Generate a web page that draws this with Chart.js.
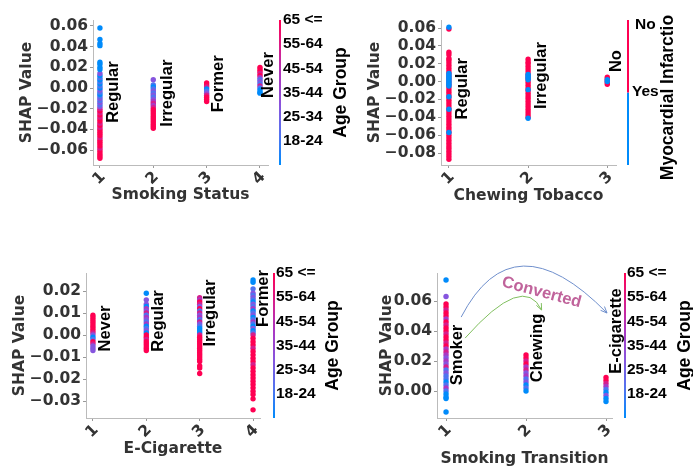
<!DOCTYPE html>
<html>
<head>
<meta charset="utf-8">
<script src="https://cdn.jsdelivr.net/npm/chart.js@4.4.1/dist/chart.umd.min.js"></script>
<style>
  html, body { margin: 0; padding: 0; background: #fff; }
  #wrap { position: relative; width: 693px; height: 468px; overflow: hidden; background: #fff; }
  #wrap canvas { position: absolute; }
</style>
</head>
<body>
<div id="wrap">
  <canvas id="g1" width="350" height="210" style="left:0px;top:0px"></canvas>
  <canvas id="g2" width="343" height="210" style="left:350px;top:0px"></canvas>
  <canvas id="g3" width="350" height="218" style="left:0px;top:250px"></canvas>
  <canvas id="g4" width="343" height="218" style="left:350px;top:250px"></canvas>
</div>
<script>
// colour groups: 0..5 = 18-24 .. 65 <=, for MI 0 = Yes, 1 = No
const ageGroups = ['18-24', '25-34', '35-44', '45-54', '55-64', '65 <='];
const ageColors = ['rgb(0,139,251)', 'rgb(80,116,240)', 'rgb(134,85,222)', 'rgb(170,56,195)', 'rgb(214,30,140)', 'rgb(255,0,82)'];
const miGroups = ['Yes', 'No'];
const miColors = ['rgb(0,139,251)', 'rgb(255,0,82)'];

const smokingLabels = ['Regular', 'Irregular', 'Former', 'Never'];
const chewingLabels = ['Regular', 'Irregular', 'No'];
const ecigLabels = ['Never', 'Regular', 'Irregular', 'Former'];
const transitionLabels = ['Smoker', 'Chewing', 'E-cigarette'];

const xTicks4 = [1, 2, 3, 4];
const xTicks3 = [1, 2, 3];
const smokingYTicks = [-0.06, -0.04, -0.02, 0, 0.02, 0.04, 0.06];
const chewingYTicks = [-0.08, -0.06, -0.04, -0.02, 0, 0.02, 0.04, 0.06];
const ecigYTicks = [-0.03, -0.02, -0.01, 0, 0.01, 0.02];
const transitionYTicks = [0, 0.02, 0.04, 0.06];

// [category, shap value, group]
const smokingPts = [
  [1,-0.068,5],[1,-0.066,5],[1,-0.064,5],[1,-0.062,5],[1,-0.060,5],[1,-0.058,4],[1,-0.056,5],[1,-0.054,5],
  [1,-0.052,5],[1,-0.050,5],[1,-0.048,4],[1,-0.046,5],[1,-0.044,5],[1,-0.042,5],[1,-0.040,5],[1,-0.038,4],
  [1,-0.036,5],[1,-0.034,4],[1,-0.032,5],[1,-0.030,5],[1,-0.028,4],[1,-0.026,5],[1,-0.024,4],[1,-0.022,5],
  [1,-0.020,4],[1,-0.018,2],[1,-0.016,1],[1,-0.014,2],[1,-0.012,1],[1,-0.010,2],[1,-0.008,1],[1,-0.006,0],
  [1,-0.004,1],[1,-0.002,2],[1,0.000,0],[1,0.002,1],[1,0.004,0],[1,0.006,1],[1,0.008,0],[1,0.010,1],
  [1,0.012,0],[1,0.014,2],[1,0.018,0],[1,0.020,0],[1,0.023,0],[1,0.025,0],[1,0.041,0],[1,0.043,0],
  [1,0.047,0],[1,0.058,0],
  [2,0.008,2],[2,0.003,1],[2,0.001,0],[2,-0.001,1],[2,-0.003,2],[2,-0.005,1],[2,-0.007,2],[2,-0.009,1],
  [2,-0.011,2],[2,-0.013,3],[2,-0.015,4],[2,-0.017,3],[2,-0.019,4],[2,-0.021,5],[2,-0.023,5],[2,-0.025,5],
  [2,-0.027,5],[2,-0.029,5],[2,-0.031,5],[2,-0.033,5],[2,-0.035,5],[2,-0.037,5],[2,-0.039,5],
  [3,0.005,5],[3,0.003,5],[3,0.001,4],[3,-0.001,0],[3,-0.003,1],[3,-0.005,2],[3,-0.007,4],[3,-0.009,5],
  [3,-0.011,5],[3,-0.013,5],
  [4,0.020,5],[4,0.018,5],[4,0.016,5],[4,0.014,4],[4,0.012,5],[4,0.010,3],[4,0.008,1],[4,0.006,2],
  [4,0.004,1],[4,0.002,4],[4,0.000,1],[4,-0.002,0],[4,-0.004,0],[4,-0.005,0]
];

const chewingPts = [
  [1,-0.087,1],[1,-0.084,1],[1,-0.081,1],[1,-0.078,1],[1,-0.075,1],[1,-0.072,1],[1,-0.069,1],[1,-0.066,1],
  [1,-0.063,1],[1,-0.060,1],[1,-0.057,1],[1,-0.054,1],[1,-0.051,1],[1,-0.048,1],[1,-0.045,1],[1,-0.042,1],
  [1,-0.039,1],[1,-0.036,1],[1,-0.033,1],[1,-0.030,1],[1,-0.027,1],[1,-0.024,1],[1,-0.021,1],[1,-0.018,1],
  [1,-0.015,1],[1,-0.012,1],[1,-0.009,1],[1,-0.006,1],[1,-0.003,1],[1,0.000,1],[1,0.003,1],[1,0.006,1],
  [1,0.009,1],[1,0.012,1],[1,0.015,1],[1,0.018,1],[1,0.021,1],[1,0.024,1],[1,0.026,1],[1,0.030,1],
  [1,0.033,1],[1,0.059,1],
  [1,0.061,0],[1,0.009,0],[1,0.007,0],[1,0.005,0],[1,0.003,0],[1,0.001,0],[1,-0.001,0],[1,-0.003,0],
  [1,-0.005,0],[1,-0.017,0],[1,-0.031,0],[1,-0.057,0],
  [2,-0.040,1],[2,-0.037,1],[2,-0.034,1],[2,-0.031,1],[2,-0.028,1],[2,-0.025,1],[2,-0.022,1],[2,-0.019,1],
  [2,-0.016,1],[2,-0.013,1],[2,-0.010,1],[2,-0.007,1],[2,-0.004,1],[2,-0.001,1],[2,0.002,1],[2,0.005,1],
  [2,0.008,1],[2,0.011,1],[2,0.014,1],[2,0.017,1],[2,0.020,1],[2,0.022,1],[2,0.025,1],
  [2,0.008,0],[2,0.006,0],[2,0.004,0],[2,0.002,0],[2,-0.009,0],[2,-0.041,0],
  [3,0.005,1],[3,0.003,1],[3,0.001,1],[3,-0.001,1],[3,-0.003,1],[3,0.002,0],[3,0.000,0]
];

const ecigPts = [
  [1,0.009,5],[1,0.008,5],[1,0.007,5],[1,0.006,5],[1,0.005,5],[1,0.004,5],[1,0.003,5],[1,0.002,5],
  [1,0.001,4],[1,0.000,2],[1,-0.001,0],[1,-0.002,1],[1,-0.003,5],[1,-0.004,4],[1,-0.005,2],[1,-0.006,2],
  [1,-0.007,2],
  [2,0.019,0],[2,0.016,2],[2,0.014,2],[2,0.013,0],[2,0.012,3],[2,0.011,2],[2,0.010,4],[2,0.009,1],
  [2,0.008,3],[2,0.007,2],[2,0.006,1],[2,0.005,3],[2,0.004,0],[2,0.003,1],[2,0.002,2],[2,0.001,0],
  [2,0.000,5],[2,-0.001,5],[2,-0.002,4],[2,-0.003,5],[2,-0.004,5],[2,-0.005,5],[2,-0.006,5],[2,-0.007,5],
  [3,0.017,4],[3,0.016,3],[3,0.015,5],[3,0.014,4],[3,0.013,2],[3,0.012,5],[3,0.011,1],[3,0.010,4],
  [3,0.009,2],[3,0.008,3],[3,0.007,1],[3,0.006,4],[3,0.005,2],[3,0.004,1],[3,0.003,0],[3,0.002,0],
  [3,0.001,0],[3,0.000,4],[3,-0.001,5],[3,-0.002,5],[3,-0.003,5],[3,-0.004,5],[3,-0.005,5],[3,-0.006,5],
  [3,-0.007,5],[3,-0.008,5],[3,-0.009,5],[3,-0.010,5],[3,-0.011,5],[3,-0.012,5],[3,-0.014,5],[3,-0.015,5],
  [3,-0.0175,5],
  [4,0.025,0],[4,0.024,0],[4,0.021,1],[4,0.019,2],[4,0.018,1],[4,0.017,2],[4,0.016,1],[4,0.015,0],
  [4,0.014,2],[4,0.013,1],[4,0.012,3],[4,0.011,0],[4,0.010,1],[4,0.009,2],[4,0.008,0],[4,0.007,1],
  [4,0.006,3],[4,0.005,1],[4,0.004,0],[4,0.003,2],[4,0.002,0],[4,0.001,1],[4,0.000,4],[4,-0.0015,5],
  [4,-0.003,5],[4,-0.0045,5],[4,-0.006,4],[4,-0.0075,5],[4,-0.009,5],[4,-0.0105,5],[4,-0.012,5],[4,-0.0135,4],
  [4,-0.015,5],[4,-0.0165,5],[4,-0.018,5],[4,-0.0195,5],[4,-0.021,5],[4,-0.0225,5],[4,-0.024,5],[4,-0.0255,5],
  [4,-0.027,5],[4,-0.029,5],[4,-0.034,5]
];

const transitionPts = [
  [1,0.074,0],[1,0.063,2],[1,0.058,5],[1,0.056,5],[1,0.054,4],[1,0.052,5],[1,0.050,5],[1,0.048,3],
  [1,0.046,5],[1,0.044,4],[1,0.042,5],[1,0.040,5],[1,0.038,4],[1,0.036,5],[1,0.034,5],[1,0.032,4],
  [1,0.030,5],[1,0.028,3],[1,0.026,4],[1,0.024,3],[1,0.022,2],[1,0.020,3],[1,0.018,2],[1,0.016,4],
  [1,0.014,1],[1,0.012,2],[1,0.010,1],[1,0.008,1],[1,0.006,0],[1,0.004,1],[1,0.002,3],[1,0.000,1],
  [1,-0.002,0],[1,-0.004,0],[1,-0.005,0],[1,-0.014,0],
  [2,0.024,5],[2,0.022,5],[2,0.020,4],[2,0.018,5],[2,0.016,3],[2,0.014,4],[2,0.012,2],[2,0.010,3],
  [2,0.008,1],[2,0.006,2],[2,0.004,0],[2,0.002,1],[2,0.000,0],
  [3,0.009,5],[3,0.007,5],[3,0.005,4],[3,0.003,3],[3,0.001,1],[3,-0.001,0],[3,-0.003,2],[3,-0.005,0],
  [3,-0.007,0]
];

const tickFont = { family: 'DejaVu Sans', weight: 'bold', size: 15.5 };
const fmt = v => (v < 0 ? '\u2212' : '') + Math.abs(v).toFixed(2);

const overlay = {
  id: 'overlay',
  afterDatasetsDraw(chart, args, o) {
    const ctx = chart.ctx, a = chart.chartArea;
    const xs = chart.scales.x, ys = chart.scales.y;
    const px = p => [xs.getPixelForValue(p[0]), ys.getPixelForValue(p[1])];
    ctx.save();
    ctx.fillStyle = '#000';
    ctx.textAlign = 'center';
    ctx.textBaseline = 'middle';
    ctx.font = 'bold 16.5px "Liberation Sans"';
    o.labels.forEach((t, i) => {
      const [x, y] = px(o.labelPos[i]);
      ctx.save();
      ctx.translate(x, y);
      ctx.rotate(-Math.PI / 2);
      ctx.fillText(t, 0, 0);
      ctx.restore();
    });

    // colour bar
    const bx = a.right + o.barGap, h = a.bottom - a.top;
    if (o.barSplit) {
      ctx.fillStyle = o.barColors[0];
      ctx.fillRect(bx, a.top + h / 2, 2, h / 2);
      ctx.fillStyle = o.barColors[1];
      ctx.fillRect(bx, a.top, 2, h / 2);
    } else {
      const grad = ctx.createLinearGradient(0, a.bottom, 0, a.top);
      o.barColors.forEach((c, i) => grad.addColorStop(i / (o.barColors.length - 1), c));
      ctx.fillStyle = grad;
      ctx.fillRect(bx, a.top, 2, h);
    }
    ctx.fillStyle = '#000';
    ctx.textAlign = 'left';
    ctx.font = 'bold 15.5px "Liberation Sans"';
    o.barLabels.forEach((t, i) => ctx.fillText(t, bx + o.barLabelDx[i], a.top + o.barLabelY[i] * h));
    ctx.font = 'bold 17.5px "Liberation Sans"';
    ctx.textAlign = 'center';
    ctx.save();
    ctx.translate(a.right + o.titleDx, a.top + h / 2 + o.titleDy);
    ctx.rotate(-Math.PI / 2);
    ctx.fillText(o.barTitle, 0, 0);
    ctx.restore();

    // curved arrows
    (o.arrows || []).forEach(ar => {
      const s = px(ar.from), c = px(ar.ctrl), e = px(ar.to);
      ctx.strokeStyle = ar.color;
      ctx.lineWidth = 1;
      ctx.beginPath();
      ctx.moveTo(s[0], s[1]);
      ctx.quadraticCurveTo(c[0], c[1], e[0], e[1]);
      ctx.stroke();
      const ang = Math.atan2(e[1] - c[1], e[0] - c[0]);
      ctx.beginPath();
      ctx.moveTo(e[0] - 7 * Math.cos(ang - 0.4), e[1] - 7 * Math.sin(ang - 0.4));
      ctx.lineTo(e[0], e[1]);
      ctx.lineTo(e[0] - 7 * Math.cos(ang + 0.4), e[1] - 7 * Math.sin(ang + 0.4));
      ctx.stroke();
    });
    if (o.note) {
      const [x, y] = px(o.note.pos);
      ctx.save();
      ctx.translate(x, y);
      ctx.rotate(o.note.angle * Math.PI / 180);
      ctx.fillStyle = o.note.color;
      ctx.font = 'bold 16.5px "Liberation Sans"';
      ctx.fillText(o.note.text, 0, 0);
      ctx.restore();
    }
    ctx.restore();
  }
};

function makePanel(id, p) {
  const cv = document.getElementById(id);
  return new Chart(cv, {
    type: 'scatter',
    data: {
      datasets: [{
        data: p.pts.map(d => ({ x: d[0], y: d[1] })),
        pointBackgroundColor: p.pts.map(d => p.colors[d[2]]),
        pointBorderWidth: 0,
        pointRadius: 2.7
      }]
    },
    options: {
      responsive: false,
      animation: false,
      events: [],
      layout: { padding: p.pad },
      plugins: {
        legend: { display: false },
        tooltip: { enabled: false },
        overlay: p.overlay
      },
      scales: {
        x: {
          type: 'linear', min: p.xMin, max: p.xMax,
          afterBuildTicks: s => { s.ticks = p.xTicks.map(v => ({ value: v })); },
          afterFit: s => { s.height = p.xH; },
          grid: { display: true, drawOnChartArea: false, drawTicks: true, tickLength: 3, color: '#999' },
          border: { display: true, color: '#bbb' },
          ticks: { font: tickFont, color: '#333', minRotation: 45, maxRotation: 45, autoSkip: false, padding: 0, labelOffset: 3, callback: v => String(v) },
          title: { display: true, text: p.xTitle, font: tickFont, color: '#333', padding: { top: 4, bottom: p.xTitlePadB } }
        },
        y: {
          type: 'linear', min: p.yMin, max: p.yMax,
          afterBuildTicks: s => { s.ticks = p.yTicks.map(v => ({ value: v })); },
          afterFit: s => { s.width = p.yW; },
          grid: { display: true, drawOnChartArea: false, drawTicks: true, tickLength: 3, color: '#999' },
          border: { display: true, color: '#bbb' },
          ticks: { font: tickFont, color: '#333', padding: 2, autoSkip: false, callback: v => fmt(v) },
          title: { display: true, text: 'SHAP Value', font: tickFont, color: '#333', padding: { top: 4, bottom: 4 } }
        }
      }
    },
    plugins: [overlay]
  });
}

const ageLabelY = [5 / 6, 4 / 6, 3 / 6, 2 / 6, 1 / 6, 0];

makePanel('g1', {
  pts: smokingPts, colors: ageColors,
  pad: { left: 14, top: 20, right: 82, bottom: 2 }, yW: 79, xH: 43,
  xMin: 0.87, xMax: 4.15, yMin: -0.0745, yMax: 0.0658,
  xTicks: xTicks4, yTicks: smokingYTicks, xTitle: 'Smoking Status', xTitlePadB: 4,
  overlay: {
    labels: smokingLabels,
    labelPos: [[1.245, -0.004], [2.258, -0.005], [3.215, 0.004], [4.153, 0.0125]],
    barGap: 11, barColors: ageColors, barLabels: ageGroups,
    barLabelDx: [4, 4, 4, 4, 4, 4], barLabelY: ageLabelY,
    barTitle: 'Age Group', titleDx: 73, titleDy: 0
  }
});

makePanel('g2', {
  pts: chewingPts, colors: miColors,
  pad: { left: 12, top: 20, right: 77, bottom: 1 }, yW: 79, xH: 44,
  xMin: 0.9, xMax: 3.11, yMin: -0.0934, yMax: 0.069,
  xTicks: xTicks3, yTicks: chewingYTicks, xTitle: 'Chewing Tobacco', xTitlePadB: 4,
  overlay: {
    labels: chewingLabels,
    labelPos: [[1.166, -0.008], [2.166, 0.0067], [3.114, 0.023]],
    barGap: 11, barColors: miColors, barSplit: true, barLabels: miGroups,
    barLabelDx: [5, 8], barLabelY: [0.497, 0.035],
    barTitle: 'Myocardial Infarctio', titleDx: 52, titleDy: 5
  }
});

makePanel('g3', {
  pts: ecigPts, colors: ageColors,
  pad: { left: 7, top: 23, right: 90, bottom: 6 }, yW: 79, xH: 44,
  xMin: 0.87, xMax: 4.13, yMin: -0.0377, yMax: 0.0282,
  xTicks: xTicks4, yTicks: ecigYTicks, xTitle: 'E-Cigarette', xTitlePadB: 4,
  overlay: {
    labels: ecigLabels,
    labelPos: [[1.226, 0.003], [2.22, 0.0064], [3.196, 0.010], [4.19, 0.0166]],
    barGap: 13, barColors: ageColors, barLabels: ageGroups,
    barLabelDx: [3, 3, 3, 3, 3, 3], barLabelY: ageLabelY,
    barTitle: 'Age Group', titleDx: 73, titleDy: 0
  }
});

makePanel('g4', {
  pts: transitionPts, colors: ageColors,
  pad: { left: 24, top: 23, right: 81, bottom: 0 }, yW: 63, xH: 50,
  xMin: 0.887, xMax: 3.075, yMin: -0.018, yMax: 0.0787,
  xTicks: xTicks3, yTicks: transitionYTicks, xTitle: 'Smoking Transition', xTitlePadB: 0,
  overlay: {
    labels: transitionLabels,
    labelPos: [[1.139, 0.024], [2.145, 0.0287], [3.126, 0.040]],
    barGap: 12, barColors: ageColors, barLabels: ageGroups,
    barLabelDx: [3, 3, 3, 3, 3, 3], barLabelY: ageLabelY,
    barTitle: 'Age Group', titleDx: 73, titleDy: 0,
    arrows: [
      { from: [1.189, 0.0493], ctrl: [1.837, 0.116], to: [3.013, 0.052], color: '#6f8fcc' },
      { from: [1.239, 0.0353], ctrl: [1.969, 0.0793], to: [2.195, 0.054], color: '#80bf5f' }
    ],
    note: { text: 'Converted', pos: [2.195, 0.0657], angle: 15, color: '#c0639b' }
  }
});
</script>
</body>
</html>
